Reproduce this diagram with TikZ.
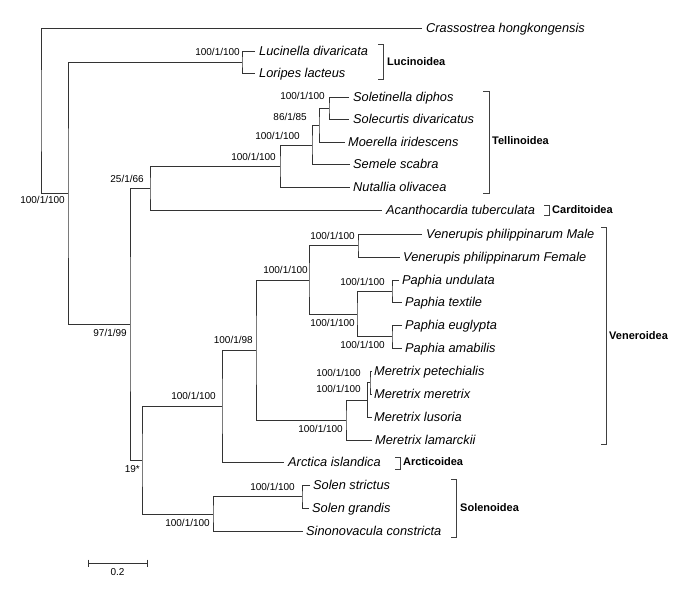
\documentclass[tikz,border=0pt]{standalone}
\usepackage{fontspec}
\setmainfont{Liberation Sans}
\begin{document}
\begin{tikzpicture}[x=1pt,y=-1pt,
  br/.style={draw=black!80,line width=0.9pt},
  brk/.style={draw=black!75,line width=1pt},
  sp/.style={anchor=west,inner sep=0pt,text height=9.2pt,text depth=0pt,font=\fontsize{12.8}{14}\selectfont\itshape},
  sup/.style={anchor=east,inner sep=0pt,text height=7.2pt,text depth=0pt,font=\fontsize{10}{12}\selectfont},
  grp/.style={anchor=west,inner sep=0pt,text height=8pt,text depth=0pt,font=\fontsize{11}{13}\selectfont\bfseries}]
\useasboundingbox[fill=white] (0,0) rectangle (692,592);
% tips
\coordinate (cra) at (422,28);
\coordinate (luc) at (255,51);
\coordinate (lor) at (255,73);
\coordinate (sold) at (349,97);
\coordinate (solc) at (349,119);
\coordinate (moe) at (345,142);
\coordinate (sem) at (350,164);
\coordinate (nut) at (350,187);
\coordinate (aca) at (382,210);
\coordinate (vm) at (422,234);
\coordinate (vf) at (400,257);
\coordinate (pu) at (399,280);
\coordinate (pt) at (402,302);
\coordinate (pe) at (402,325);
\coordinate (pa) at (402,348);
\coordinate (mp) at (372,371);
\coordinate (mm) at (372,394);
\coordinate (ml) at (372,417);
\coordinate (mla) at (372,440);
\coordinate (arc) at (284,462);
\coordinate (ss) at (310,485);
\coordinate (sg) at (309,508);
\coordinate (sin) at (303,531);
% internal nodes
\coordinate (R) at (41,110.5);
\coordinate (N1) at (68,193);
\coordinate (L) at (242,62);
\coordinate (A) at (130,324);
\coordinate (B) at (150,188.5);
\coordinate (T1) at (280,166.5);
\coordinate (T2) at (312,145);
\coordinate (T3) at (319,125);
\coordinate (T4) at (329,108);
\coordinate (C) at (142,460);
\coordinate (C1) at (222,406);
\coordinate (V1) at (256,350);
\coordinate (V2) at (309,280);
\coordinate (V3) at (358,245.5);
\coordinate (V4) at (357,314);
\coordinate (V5) at (392,291);
\coordinate (V6) at (392,336.5);
\coordinate (M1) at (346,420);
\coordinate (M2) at (367.5,400);
\coordinate (M3) at (370,382.5);
\coordinate (S1) at (213,514);
\coordinate (S2) at (302,496.5);
% branches
\draw[br] (cra) -| (R) |- (N1);
\draw[br] (L) -| (N1) |- (A);
\draw[br] (luc) -| (L) |- (lor);
\draw[br] (B) -| (A) |- (C);
\draw[br] (T1) -| (B) |- (aca);
\draw[br] (T2) -| (T1) |- (nut);
\draw[br] (T3) -| (T2) |- (sem);
\draw[br] (T4) -| (T3) |- (moe);
\draw[br] (sold) -| (T4) |- (solc);
\draw[br] (C1) -| (C) |- (S1);
\draw[br] (V1) -| (C1) |- (arc);
\draw[br] (V2) -| (V1) |- (M1);
\draw[br] (V3) -| (V2) |- (V4);
\draw[br] (vm) -| (V3) |- (vf);
\draw[br] (V5) -| (V4) |- (V6);
\draw[br] (pu) -| (V5) |- (pt);
\draw[br] (pe) -| (V6) |- (pa);
\draw[br] (M2) -| (M1) |- (mla);
\draw[br] (M3) -| (M2) |- (ml);
\draw[br] (mp) -| (M3) |- (mm);
\draw[br] (S2) -| (S1) |- (sin);
\draw[br] (ss) -| (S2) |- (sg);
% species names
\node[sp] (tcra) at (426,28) {Crassostrea hongkongensis};
\node[sp] (tluc) at (259,51) {Lucinella divaricata};
\node[sp] (tlor) at (259,73) {Loripes lacteus};
\node[sp] (tsold) at (353,97) {Soletinella diphos};
\node[sp] (tsolc) at (353,119) {Solecurtis divaricatus};
\node[sp] (tmoe) at (348,142) {Moerella iridescens};
\node[sp] (tsem) at (353,164) {Semele scabra};
\node[sp] (tnut) at (353,187) {Nutallia olivacea};
\node[sp] (taca) at (386,210) {Acanthocardia tuberculata};
\node[sp] (tvm) at (426,234) {Venerupis philippinarum Male};
\node[sp] (tvf) at (403,257) {Venerupis philippinarum Female};
\node[sp] (tpu) at (402,280) {Paphia undulata};
\node[sp] (tpt) at (405,302) {Paphia textile};
\node[sp] (tpe) at (405,325) {Paphia euglypta};
\node[sp] (tpa) at (405,348) {Paphia amabilis};
\node[sp] (tmp) at (374,371) {Meretrix petechialis};
\node[sp] (tmm) at (374,394) {Meretrix meretrix};
\node[sp] (tml) at (374,417) {Meretrix lusoria};
\node[sp] (tmla) at (375,440) {Meretrix lamarckii};
\node[sp] (tarc) at (288,462) {Arctica islandica};
\node[sp] (tss) at (313,485) {Solen strictus};
\node[sp] (tsg) at (312,508) {Solen grandis};
\node[sp] (tsin) at (306,531) {Sinonovacula constricta};
% support values
\node[sup] (sN1) at (65,200) {100/1/100};
\node[sup] (sL) at (240,52) {100/1/100};
\node[sup] (sA) at (127,333) {97/1/99};
\node[sup] (sB) at (144,179) {25/1/66};
\node[sup] (sT1) at (276,157) {100/1/100};
\node[sup] (sT2) at (300,136) {100/1/100};
\node[sup] (sT3) at (307,117) {86/1/85};
\node[sup] (sT4) at (325,96) {100/1/100};
\node[sup] (sC) at (140,469) {19*};
\node[sup] (sC1) at (216,396) {100/1/100};
\node[sup] (sV1) at (253,340) {100/1/98};
\node[sup] (sV2) at (308,270) {100/1/100};
\node[sup] (sV3) at (355,236) {100/1/100};
\node[sup] (sV4) at (355,323) {100/1/100};
\node[sup] (sV5) at (385,282) {100/1/100};
\node[sup] (sV6) at (385,345) {100/1/100};
\node[sup] (sM1) at (343,429) {100/1/100};
\node[sup] (sM3) at (361,373) {100/1/100};
\node[sup] (sM2) at (361,389) {100/1/100};
\node[sup] (sS1) at (210,523) {100/1/100};
\node[sup] (sS2) at (295,487) {100/1/100};
% clade brackets
\draw[brk] (378,44) -- (383,44) -- (383,79) -- (378,79);
\node[grp] (gluc) at (387,61) {Lucinoidea};
\draw[brk] (483,91) -- (489,91) -- (489,193) -- (483,193);
\node[grp] (gtel) at (492,140) {Tellinoidea};
\draw[brk] (544,205) -- (549,205) -- (549,215) -- (544,215);
\node[grp] (gcar) at (552,209) {Carditoidea};
\draw[brk] (601,227) -- (606,227) -- (606,444) -- (601,444);
\node[grp] (gven) at (609,335) {Veneroidea};
\draw[brk] (395,457) -- (400,457) -- (400,469) -- (395,469);
\node[grp] (garc) at (403,461) {Arcticoidea};
\draw[brk] (451,479) -- (456,479) -- (456,537) -- (451,537);
\node[grp] (gsol) at (460,507) {Solenoidea};
% scale bar
\coordinate (sb1) at (88,563);
\coordinate (sb2) at (147,563);
\draw[br] (sb1) -- (sb2);
\draw[br] (88,559.5) -- (88,566.5);
\draw[br] (147,559.5) -- (147,566.5);
\node[anchor=north,inner sep=0pt,font=\fontsize{10}{12}\selectfont] (sblab) at (117.5,568) {0.2};
\end{tikzpicture}
\end{document}
